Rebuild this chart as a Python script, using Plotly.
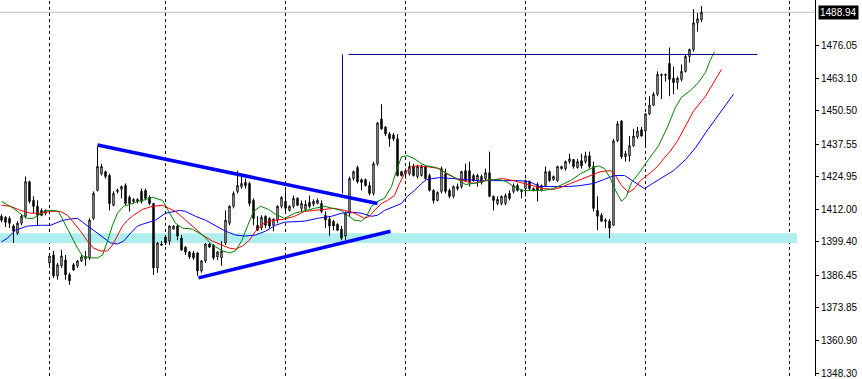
import plotly.graph_objects as go

# ---------------- data ----------------
open_ = [1409.4, 1409.0, 1408.6, 1405.6, 1402.8, 1406.7, 1409.4, 1422.9, 1415.6, 1413.3,
         1411.7, 1410.6, 1391.2, 1394.3, 1386.2, 1390.1, 1392.4, 1386.6, 1390.5, 1390.1,
         1392.0, 1392.8, 1393.2, 1408.6, 1419.5, 1426.0, 1426.8, 1425.3, 1413.7, 1419.1,
         1419.9, 1421.4, 1416.8, 1415.2, 1415.2, 1419.1, 1419.5, 1416.8, 1414.4, 1389.3,
         1398.6, 1401.3, 1399.7, 1404.4, 1405.6, 1400.9, 1397.4, 1395.5, 1395.1, 1395.1,
         1388.1, 1392.0, 1398.6, 1398.2, 1393.6, 1393.2, 1399.0, 1406.7, 1413.3, 1419.1,
         1421.0, 1422.6, 1422.2, 1415.6, 1405.9, 1404.8, 1409.4, 1408.6, 1405.9, 1407.9,
         1413.3, 1415.2, 1411.7, 1413.3, 1416.4, 1412.5, 1412.1, 1414.8, 1414.1, 1414.4,
         1414.4, 1409.8, 1408.3, 1407.5, 1406.3, 1404.4, 1401.7, 1410.6, 1424.1, 1428.4,
         1423.7, 1423.7, 1421.4, 1418.3, 1429.9, 1447.3, 1444.2, 1441.5, 1441.1, 1439.6,
         1426.8, 1426.0, 1426.0, 1428.8, 1424.9, 1425.3, 1428.8, 1425.3, 1419.5, 1415.6,
         1419.1, 1426.0, 1419.5, 1417.2, 1420.2, 1421.0, 1427.2, 1427.2, 1425.3, 1423.3,
         1424.9, 1424.1, 1426.4, 1417.2, 1414.4, 1414.4, 1414.4, 1418.3, 1419.1, 1421.4,
         1419.5, 1420.2, 1422.9, 1420.2, 1421.8, 1419.5, 1421.4, 1426.8, 1423.7, 1423.3,
         1428.0, 1428.0, 1430.7, 1431.5, 1428.4, 1431.1, 1430.7, 1433.0, 1428.8, 1411.7,
         1409.8, 1407.9, 1407.5, 1405.9, 1438.8, 1446.5, 1432.6, 1433.0, 1436.9, 1440.4,
         1443.1, 1442.7, 1449.3, 1452.7, 1457.0, 1464.3, 1464.3, 1469.0, 1463.2, 1461.6,
         1462.8, 1465.9, 1471.7, 1474.4, 1484.8, 1486.0]
high = [1410.2, 1409.4, 1409.4, 1406.3, 1407.5, 1410.2, 1424.9, 1423.3, 1417.2, 1415.6,
        1412.5, 1412.1, 1395.1, 1395.9, 1391.2, 1396.3, 1394.3, 1387.4, 1391.2, 1392.4,
        1394.3, 1395.9, 1408.6, 1419.1, 1436.5, 1429.9, 1427.2, 1426.0, 1419.1, 1420.2,
        1421.4, 1422.2, 1417.5, 1416.4, 1416.4, 1420.2, 1420.2, 1417.5, 1414.4, 1399.4,
        1399.7, 1402.1, 1405.9, 1405.9, 1405.9, 1402.1, 1397.8, 1395.9, 1395.9, 1395.5,
        1392.4, 1399.0, 1399.0, 1398.6, 1395.9, 1399.7, 1411.7, 1413.7, 1419.1, 1427.2,
        1425.3, 1424.1, 1422.9, 1416.4, 1409.4, 1409.8, 1409.8, 1409.0, 1408.6, 1413.7,
        1417.2, 1419.5, 1413.7, 1417.5, 1416.8, 1415.6, 1415.6, 1417.5, 1416.0, 1416.4,
        1415.6, 1411.3, 1409.4, 1407.9, 1406.7, 1405.6, 1411.3, 1424.9, 1427.2, 1429.1,
        1424.1, 1424.1, 1422.9, 1430.7, 1446.2, 1453.1, 1444.6, 1442.3, 1441.9, 1441.5,
        1427.2, 1428.0, 1430.7, 1429.9, 1429.5, 1429.5, 1429.1, 1426.0, 1419.9, 1419.1,
        1428.8, 1428.0, 1420.2, 1421.4, 1422.2, 1427.2, 1429.9, 1430.7, 1426.0, 1426.0,
        1425.7, 1428.0, 1434.6, 1417.5, 1417.2, 1417.5, 1418.3, 1419.5, 1422.2, 1422.2,
        1419.9, 1423.7, 1423.3, 1420.6, 1422.6, 1421.8, 1428.8, 1427.2, 1425.3, 1429.1,
        1429.1, 1431.1, 1433.8, 1431.8, 1431.8, 1433.8, 1434.6, 1434.6, 1430.7, 1417.2,
        1410.6, 1408.6, 1408.3, 1439.6, 1446.5, 1446.9, 1434.9, 1440.7, 1443.5, 1444.2,
        1444.2, 1449.6, 1456.2, 1457.8, 1465.9, 1465.1, 1465.1, 1475.2, 1467.8, 1463.9,
        1468.6, 1472.5, 1474.8, 1490.2, 1488.7, 1491.4]
low = [1407.1, 1405.2, 1404.8, 1399.0, 1402.1, 1405.9, 1408.6, 1414.4, 1410.6, 1405.6,
       1409.4, 1409.8, 1390.1, 1385.4, 1384.7, 1389.3, 1384.7, 1382.7, 1388.1, 1389.3,
       1391.6, 1390.1, 1392.4, 1407.9, 1419.1, 1425.3, 1424.1, 1411.7, 1413.3, 1418.3,
       1416.4, 1413.7, 1411.3, 1414.4, 1414.4, 1414.4, 1415.6, 1413.7, 1386.6, 1387.4,
       1397.8, 1398.2, 1398.2, 1404.4, 1400.1, 1395.9, 1394.3, 1392.8, 1392.4, 1386.2,
       1387.4, 1391.2, 1397.0, 1392.4, 1392.4, 1390.1, 1398.2, 1405.9, 1412.5, 1418.3,
       1420.2, 1420.2, 1413.3, 1405.9, 1403.6, 1404.0, 1404.8, 1404.8, 1403.6, 1406.7,
       1412.5, 1410.6, 1411.3, 1412.5, 1413.3, 1411.3, 1411.3, 1412.5, 1413.3, 1414.1,
       1410.6, 1404.8, 1401.7, 1404.0, 1403.6, 1400.1, 1400.1, 1409.4, 1423.3, 1422.2,
       1419.5, 1421.0, 1417.5, 1417.5, 1429.1, 1443.1, 1440.7, 1436.5, 1438.8, 1424.9,
       1424.9, 1424.1, 1425.3, 1424.9, 1424.1, 1424.9, 1423.7, 1419.1, 1414.4, 1415.2,
       1418.3, 1418.3, 1416.4, 1416.4, 1419.5, 1420.2, 1422.9, 1421.0, 1422.9, 1421.0,
       1421.8, 1423.3, 1416.8, 1411.7, 1413.7, 1413.7, 1413.7, 1415.6, 1418.3, 1419.1,
       1416.4, 1417.2, 1419.5, 1419.1, 1415.2, 1419.1, 1421.0, 1422.9, 1423.3, 1422.9,
       1427.6, 1427.2, 1429.9, 1428.0, 1428.0, 1428.0, 1429.9, 1428.0, 1411.3, 1404.0,
       1407.1, 1404.8, 1400.9, 1405.6, 1438.4, 1431.8, 1430.7, 1430.7, 1436.5, 1439.6,
       1440.4, 1436.9, 1448.9, 1452.4, 1456.2, 1455.1, 1462.0, 1456.2, 1457.0, 1458.9,
       1462.0, 1465.5, 1469.4, 1473.6, 1481.4, 1485.2]
close = [1407.9, 1407.1, 1406.7, 1403.6, 1406.7, 1409.4, 1422.9, 1415.2, 1413.3, 1409.8,
         1409.8, 1411.7, 1393.9, 1386.2, 1390.5, 1393.9, 1386.6, 1384.3, 1388.5, 1392.0,
         1393.6, 1393.9, 1407.9, 1418.3, 1428.8, 1428.8, 1424.9, 1414.4, 1418.3, 1419.5,
         1421.0, 1414.4, 1414.4, 1416.0, 1416.0, 1415.2, 1416.4, 1414.4, 1389.3, 1399.0,
         1398.2, 1399.0, 1405.6, 1405.6, 1401.7, 1396.3, 1395.5, 1393.6, 1393.2, 1388.1,
         1392.0, 1398.6, 1397.4, 1393.2, 1395.5, 1395.9, 1407.9, 1413.3, 1418.3, 1421.4,
         1422.2, 1421.4, 1414.4, 1408.6, 1404.0, 1409.0, 1405.9, 1405.6, 1408.3, 1413.3,
         1416.8, 1412.5, 1413.3, 1416.4, 1413.7, 1414.4, 1414.1, 1413.3, 1415.2, 1415.6,
         1411.3, 1407.9, 1405.6, 1405.6, 1404.0, 1400.9, 1410.6, 1424.1, 1426.8, 1422.9,
         1422.6, 1421.4, 1418.3, 1429.9, 1445.8, 1443.5, 1441.5, 1439.6, 1439.6, 1425.3,
         1425.3, 1427.2, 1428.8, 1425.3, 1428.8, 1428.8, 1424.1, 1419.5, 1415.6, 1418.7,
         1428.0, 1419.1, 1417.2, 1421.0, 1421.0, 1426.8, 1423.3, 1422.9, 1423.3, 1425.3,
         1422.6, 1426.4, 1417.2, 1415.6, 1416.0, 1417.2, 1417.5, 1416.4, 1421.4, 1419.5,
         1419.1, 1423.3, 1420.2, 1419.5, 1419.5, 1421.4, 1426.8, 1423.3, 1424.9, 1428.8,
         1428.8, 1430.7, 1431.8, 1428.8, 1430.7, 1429.1, 1433.0, 1428.8, 1412.5, 1409.4,
         1407.5, 1407.5, 1404.8, 1438.8, 1445.4, 1432.6, 1433.8, 1436.9, 1440.7, 1442.7,
         1440.7, 1449.3, 1452.7, 1457.0, 1464.7, 1464.7, 1464.7, 1462.8, 1461.6, 1463.2,
         1465.9, 1471.7, 1474.4, 1484.8, 1486.4, 1488.94]
bars = list(range(len(close)))

# Alligator lines (lips = green, teeth = red, jaw = blue), bar position / price
lips_x = [0, 3, 5.25, 6.5, 8, 9.75, 11, 13, 14.25, 15.5, 17.25, 19, 20.25, 22.25, 24, 25.25, 26.5,
          27.75, 29, 30.5, 32.25, 34, 35.25, 37.75, 40.25, 42, 43.5, 45.25, 47.75, 50.25, 52.75,
          55.25, 57, 58.5, 60, 61.5, 63, 64.75, 66.75, 68.5, 70.75, 73.25, 75.75, 78.25, 80.75,
          83.25, 85, 86.5, 88.25, 90, 91.25, 92.5, 94, 95.75, 97.5, 98.75, 100, 101.5, 103.25, 105,
          106.25, 108.75, 111.25, 113.75, 116, 119.5, 122, 124.5, 126.25, 128, 130.5, 133, 135.5,
          138, 139.75, 142.25, 144.75, 147.25, 149.25, 150.75, 152.25, 153.5, 155, 156.25, 157.5,
          159.25, 161.75, 164.25, 166.5, 168.5, 170, 172.25, 174.25, 176, 177.25, 178.25]
lips_y = [1415.2, 1412.5, 1409.8, 1408.6, 1408.6, 1410.6, 1411.7, 1411.7, 1411.3, 1407.5,
          1402.1, 1397.0, 1393.9, 1393.2, 1393.2, 1394.3, 1399.7, 1405.9, 1410.6, 1413.3,
          1414.1, 1415.2, 1415.6, 1416.8, 1415.6, 1410.6, 1406.7, 1404.8, 1404.4, 1402.1,
          1398.2, 1395.9, 1395.1, 1395.9, 1399.7, 1405.6, 1411.3, 1413.3, 1412.1, 1410.2,
          1408.6, 1410.6, 1411.7, 1412.5, 1413.3, 1412.5, 1411.7, 1409.8, 1407.9, 1407.5,
          1409.4, 1413.3, 1415.2, 1416.4, 1421.0, 1427.2, 1432.6, 1433.0, 1431.8, 1429.9,
          1429.1, 1428.4, 1426.4, 1424.1, 1421.8, 1422.6, 1423.7, 1423.7, 1422.9, 1421.0,
          1419.5, 1419.5, 1419.5, 1420.2, 1421.4, 1423.3, 1426.0, 1428.0, 1429.1, 1428.0,
          1424.1, 1419.5, 1415.2, 1417.2, 1422.6, 1426.0, 1431.5, 1436.9, 1444.2, 1451.9,
          1455.8, 1458.5, 1461.6, 1465.5, 1470.5, 1473.6]
teeth_x = [0, 2.25, 4.75, 7.25, 9.75, 12.25, 14.75, 16.5, 17.75, 19.75, 21.5, 23, 24.75, 26.5,
           27.75, 29, 30.25, 31.5, 33, 35.25, 37.75, 40.25, 42, 43.5, 45.25, 47.75, 50.25, 52.75,
           55.25, 57, 58.5, 60.25, 62, 63.5, 65.25, 67, 68.5, 70.75, 73.25, 75.75, 78.25, 80.75,
           83.25, 85.75, 88.25, 90.75, 92, 93.25, 95, 96.5, 98.25, 99.5, 100.75, 102.5, 104,
           106.25, 109.5, 111.25, 113.75, 116.25, 118, 120.5, 123, 125.5, 128, 130.5, 133, 135.5,
           138, 139.75, 142.25, 144.75, 147.25, 149.75, 152.25, 153.5, 155, 156.75, 158, 159.75,
           162.25, 164, 165.5, 167.25, 169, 171.25, 173, 176, 177.75, 179, 180]
teeth_y = [1413.7, 1413.3, 1411.7, 1410.6, 1410.6, 1411.3, 1411.3, 1409.8, 1407.5, 1403.6,
           1399.7, 1397.0, 1395.9, 1395.9, 1398.2, 1402.1, 1405.6, 1407.9, 1409.8, 1412.1,
           1413.3, 1413.7, 1412.5, 1411.3, 1409.0, 1405.6, 1402.1, 1399.7, 1398.2, 1397.0,
           1396.6, 1397.8, 1400.1, 1403.6, 1406.3, 1407.5, 1407.9, 1408.3, 1409.4, 1411.3,
           1411.7, 1412.1, 1412.5, 1411.7, 1410.6, 1408.6, 1409.4, 1411.7, 1414.4, 1415.6,
           1417.5, 1422.2, 1426.0, 1428.8, 1429.1, 1428.8, 1428.0, 1426.0, 1424.1, 1422.9,
           1422.2, 1423.3, 1423.7, 1424.1, 1423.3, 1422.2, 1421.4, 1420.2, 1419.9, 1420.6,
           1422.2, 1423.7, 1425.3, 1426.8, 1427.2, 1425.3, 1421.4, 1418.7, 1419.9, 1423.3,
           1426.4, 1428.8, 1431.8, 1434.9, 1438.8, 1445.4, 1450.4, 1456.2, 1460.8, 1464.3,
           1466.7]
jaw_x = [0, 1.5, 3.5, 6.5, 9.75, 12.25, 14.75, 16.75, 19, 20.5, 22.25, 24, 25.5, 27.25, 29, 30.5,
         32.25, 34, 35.25, 38.5, 41, 44.5, 46, 48.5, 51, 53.5, 56, 58.5, 61, 63.5, 66, 68.5, 70.75,
         75.75, 79, 82.5, 85, 87.5, 90, 92.5, 94, 95.75, 98.25, 100, 101.5, 103.25, 105, 106.25,
         109.5, 113, 116.25, 119.5, 123, 126.25, 129.5, 132, 134.5, 137, 139.5, 141.75, 144.75,
         148, 150.5, 153.25, 155.75, 158.25, 160.75, 162.75, 165.25, 168, 171, 173.5, 176, 177.75,
         179, 181.5, 183]
jaw_y = [1399.4, 1400.9, 1404.0, 1405.6, 1405.9, 1405.9, 1407.5, 1408.3, 1408.6, 1406.7,
         1404.8, 1402.8, 1400.9, 1399.0, 1398.6, 1399.7, 1402.8, 1405.6, 1406.3, 1407.9,
         1410.6, 1411.7, 1411.3, 1409.4, 1407.9, 1405.9, 1403.6, 1402.1, 1401.7, 1402.1,
         1403.6, 1405.9, 1407.1, 1407.5, 1408.6, 1409.4, 1410.6, 1411.0, 1410.6, 1409.4,
         1409.8, 1411.7, 1413.3, 1414.4, 1417.2, 1419.5, 1422.2, 1423.7, 1424.5, 1424.1,
         1423.7, 1423.3, 1423.3, 1423.3, 1423.3, 1422.9, 1421.0, 1421.0, 1421.0, 1421.0,
         1421.4, 1422.2, 1423.7, 1425.3, 1425.3, 1422.9, 1420.2, 1422.2, 1424.5, 1427.2,
         1431.5, 1436.1, 1441.9, 1445.8, 1448.5, 1453.9, 1457.0]

# drawn objects
tri_upper_x = [24, 94]
tri_upper_y = [1437.2, 1414.4]
tri_lower_x = [49.25, 97.25]
tri_lower_y = [1385.4, 1403.6]
level_x = [86.75, 189]
level_price = 1472.5
vert_x = 85.25
vert_y = [1418.3, 1472.5]
zone_x = [-0.375, 198.9]
zone_y = [1399.0, 1402.8]
separators = [12, 41, 71, 101, 131, 161, 197]
bid = 1488.94
bid_text = "1488.94"
tick_vals = [1476.05, 1463.10, 1450.50, 1437.55, 1424.95, 1412.00, 1399.40,
             1386.45, 1373.85, 1360.90, 1348.30]
tick_text = ["1476.05", "1463.10", "1450.50", "1437.55", "1424.95", "1412.00",
             "1399.40", "1386.45", "1373.85", "1360.90", "1348.30"]

# ---------------- figure ----------------
fig = go.Figure()

fig.add_trace(go.Candlestick(
    x=bars, open=open_, high=high, low=low, close=close,
    increasing=dict(fillcolor="white", line=dict(color="black", width=1)),
    decreasing=dict(fillcolor="black", line=dict(color="black", width=1)),
    whiskerwidth=0, hoverinfo="skip", showlegend=False))

for xs, ys, col in [(jaw_x, jaw_y, "#0000FF"), (teeth_x, teeth_y, "#FF0000"),
                    (lips_x, lips_y, "#008000")]:
    fig.add_trace(go.Scatter(x=xs, y=ys, mode="lines", line=dict(color=col, width=1),
                             hoverinfo="skip", showlegend=False))

for xs, ys in [(tri_upper_x, tri_upper_y), (tri_lower_x, tri_lower_y)]:
    fig.add_trace(go.Scatter(x=xs, y=ys, mode="lines", line=dict(color="#0000FF", width=3.5),
                             hoverinfo="skip", showlegend=False))

fig.add_trace(go.Scatter(x=level_x, y=[level_price, level_price], mode="lines",
                         line=dict(color="#000080", width=1), hoverinfo="skip", showlegend=False))
fig.add_trace(go.Scatter(x=[vert_x, vert_x], y=vert_y, mode="lines",
                         line=dict(color="#0000A0", width=1), hoverinfo="skip", showlegend=False))

shapes = [dict(type="rect", xref="x", yref="y", x0=zone_x[0], x1=zone_x[1],
               y0=zone_y[0], y1=zone_y[1], fillcolor="#AFEEEE", line=dict(width=0), layer="below")]
for s in separators:
    shapes.append(dict(type="line", xref="x", yref="paper", x0=s, x1=s, y0=0, y1=1,
                       line=dict(color="black", width=1, dash="3px,3px"), layer="below"))
shapes.append(dict(type="line", xref="paper", yref="y", x0=0, x1=1, y0=bid, y1=bid,
                   line=dict(color="#C0C0C0", width=1), layer="below"))
fig.update_layout(shapes=shapes)

fig.add_annotation(x=1, xref="paper", y=bid, yref="y", text=bid_text,
                   showarrow=False, xanchor="left", yanchor="middle", xshift=3,
                   bgcolor="black", font=dict(color="white", size=10, family="Liberation Sans"),
                   borderpad=1)

fig.update_layout(
    width=862, height=379,
    margin=dict(l=0, r=47, t=0, b=0),
    paper_bgcolor="white", plot_bgcolor="white",
    boxgap=0.5,
    xaxis=dict(range=[-0.375, 203.375], visible=False, rangeslider=dict(visible=False),
               fixedrange=True),
    yaxis=dict(range=[1347.14, 1493.73], side="right", tickvals=tick_vals, ticktext=tick_text,
               showgrid=False, zeroline=False, showline=True, linecolor="black", linewidth=1,
               ticks="outside", ticklen=3, tickcolor="black", ticklabeloverflow="allow",
               tickfont=dict(family="Liberation Sans", size=10, color="black"), fixedrange=True),
    showlegend=False,
)

fig.write_html("out.html")
